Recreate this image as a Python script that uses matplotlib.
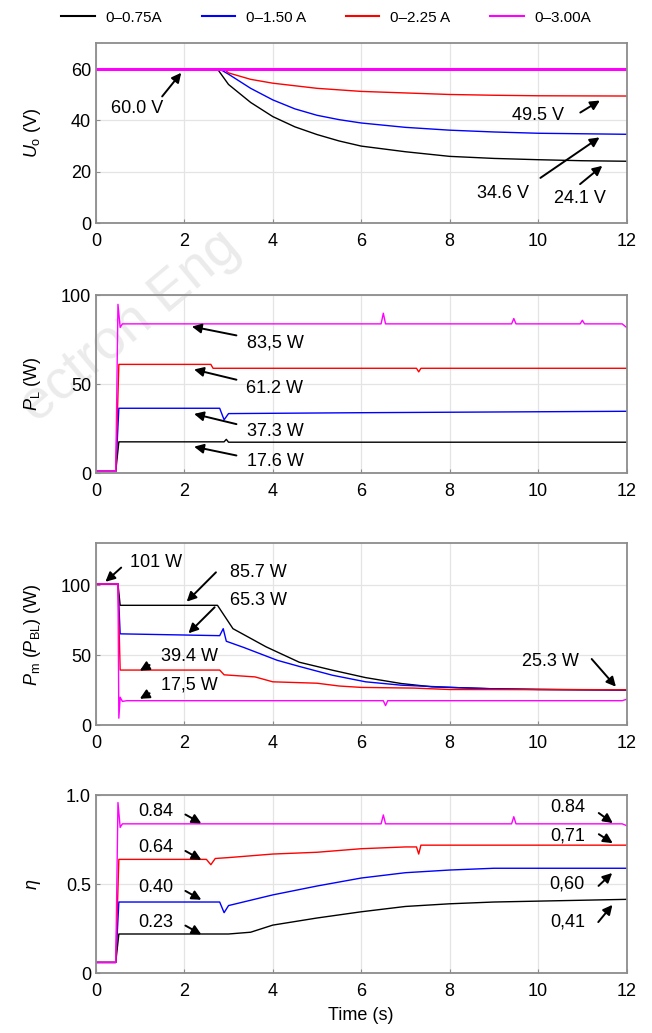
import matplotlib
matplotlib.use('Agg')
import matplotlib.pyplot as plt
from matplotlib.lines import Line2D

plt.rcParams['font.family'] = ['Liberation Sans', 'DejaVu Sans']
plt.rcParams['mathtext.fontset'] = 'custom'
plt.rcParams['mathtext.rm'] = 'Liberation Sans'
plt.rcParams['mathtext.it'] = 'Liberation Sans:italic'

# series names and colours
series = ['0–0.75A', '0–1.50 A', '0–2.25 A', '0–3.00A']
colors = ['black', 'blue', 'red', 'magenta']

# ---- Uo (V) ----
t_uo_k = [0, 2.75, 3.0, 3.5, 4.0, 4.5, 5.0, 5.5, 6.0, 7.0, 8.0, 9.0, 10.0, 11.0, 12.0]
uo_k = [60, 60, 54, 47, 41.5, 37.5, 34.5, 32, 30, 27.8, 26, 25.2, 24.7, 24.3, 24.1]
t_uo_b = [0, 2.8, 3.0, 3.5, 4.0, 4.5, 5.0, 5.5, 6.0, 7.0, 8.0, 9.0, 10.0, 11.0, 12.0]
uo_b = [60, 60, 58, 52.5, 48, 44.5, 42, 40.3, 39, 37.3, 36.2, 35.5, 35, 34.8, 34.6]
t_uo_r = [0, 2.9, 3.0, 3.5, 4.0, 4.5, 5.0, 6.0, 7.0, 8.0, 9.0, 10.0, 12.0]
uo_r = [60, 60, 58.5, 56, 54.5, 53.5, 52.5, 51.3, 50.7, 50.1, 49.8, 49.6, 49.5]
t_uo_m = [0, 12]
uo_m = [60, 60]

# ---- PL (W) ----
t_pl_k = [0, 0.45, 0.52, 2.9, 2.95, 3.0, 12]
pl_k = [1, 1, 17.6, 17.6, 19, 17.4, 17.4]
t_pl_b = [0, 0.45, 0.52, 2.8, 2.9, 3.0, 6.0, 12]
pl_b = [1, 1, 36.5, 36.5, 30, 33.5, 34, 34.8]
t_pl_r = [0, 0.45, 0.52, 2.6, 2.65, 7.25, 7.3, 7.35, 12]
pl_r = [1, 1, 61.2, 61.2, 59, 59, 57, 59, 59]
t_pl_m = [0, 0.45, 0.5, 0.55, 0.6, 6.45, 6.5, 6.55, 9.4, 9.45, 9.5, 10.95, 11.0, 11.05, 11.9, 12]
pl_m = [1, 1, 95, 82, 84, 84, 90, 84, 84, 87, 84, 84, 86, 84, 84, 82]

# ---- Pm (PBL) (W) ----
t_pm_k = [0, 0.5, 0.55, 2.75, 3.1, 3.85, 4.6, 5.35, 6.1, 6.9, 7.6, 8.2, 9.0, 10.0, 11.0, 12.0]
pm_k = [101, 101, 85.7, 85.7, 69, 56, 45, 39.3, 34, 29.8, 27.4, 26.8, 26, 25.6, 25.4, 25.3]
t_pm_b = [0, 0.5, 0.55, 2.8, 2.88, 2.95, 3.35, 4.1, 4.6, 5.35, 6.1, 6.9, 8.2, 9.0, 10.0, 12.0]
pm_b = [101, 101, 65.3, 64, 69, 60, 55.5, 46.4, 42, 35.7, 31, 28.6, 26.8, 26, 25.5, 25]
t_pm_r = [0, 0.5, 0.55, 2.8, 2.9, 3.6, 4.0, 5.0, 5.5, 6.0, 7.2, 8.0, 12.0]
pm_r = [101, 101, 39.4, 39.4, 36, 34.5, 31, 30, 28, 27, 26.5, 25.5, 25.3]
t_pm_m = [0, 0.5, 0.52, 0.55, 0.6, 0.7, 6.5, 6.55, 6.6, 11.9, 12.0]
pm_m = [101, 101, 5, 20, 17, 17.5, 17.5, 14, 17.5, 17.5, 18.5]

# ---- efficiency ----
t_eta_k = [0, 0.45, 0.52, 3.0, 3.5, 4.0, 5.0, 6.0, 7.0, 8.0, 9.0, 10.0, 12.0]
eta_k = [0.06, 0.06, 0.22, 0.22, 0.23, 0.27, 0.31, 0.345, 0.375, 0.39, 0.40, 0.405, 0.415]
t_eta_b = [0, 0.45, 0.52, 2.8, 2.9, 3.0, 4.0, 5.0, 6.0, 7.0, 8.0, 9.0, 12.0]
eta_b = [0.06, 0.06, 0.40, 0.40, 0.34, 0.38, 0.44, 0.49, 0.535, 0.565, 0.58, 0.59, 0.59]
t_eta_r = [0, 0.45, 0.52, 2.5, 2.6, 2.7, 3.0, 4.0, 5.0, 6.0, 7.0, 7.25, 7.3, 7.35, 8.0, 12.0]
eta_r = [0.06, 0.06, 0.64, 0.64, 0.61, 0.645, 0.65, 0.67, 0.68, 0.70, 0.71, 0.71, 0.67, 0.72, 0.72, 0.72]
t_eta_m = [0, 0.45, 0.5, 0.55, 0.6, 6.45, 6.5, 6.55, 9.4, 9.45, 9.5, 11.9, 12.0]
eta_m = [0.06, 0.06, 0.96, 0.82, 0.84, 0.84, 0.89, 0.84, 0.84, 0.88, 0.84, 0.84, 0.83]

# annotations: text, text centre, arrow tail, arrow head
notes_uo = [('60.0 V', (0.93, 44.5), (1.46, 48.5), (1.97, 59.4)),
            ('49.5 V', (10.0, 41.8), (10.9, 42.5), (11.45, 48.3)),
            ('34.6 V', (9.2, 11.6), (10.0, 17.0), (11.44, 34.0)),
            ('24.1 V', (10.95, 9.6), (10.9, 14.5), (11.5, 23.0))]
notes_pl = [('83,5 W', (4.05, 73.5), (3.24, 77.2), (2.11, 82.8)),
            ('61.2 W', (4.05, 47.6), (3.24, 52.2), (2.16, 58.7)),
            ('37.3 W', (4.05, 23.5), (3.24, 27.2), (2.16, 33.7)),
            ('17.6 W', (4.05, 6.5), (3.24, 9.6), (2.16, 15.2))]
notes_pm = [('101 W', (1.36, 116.6), (0.62, 114), (0.17, 101.2)),
            ('85.7 W', (3.67, 109.5), (2.76, 110.7), (2.01, 86.9)),
            ('65.3 W', (3.67, 89.3), (2.73, 85.7), (2.05, 64.3)),
            ('39.4 W', (2.11, 48.8), (1.27, 44.0), (0.94, 38.0)),
            ('17,5 W', (2.11, 28.6), (1.27, 23.8), (0.94, 17.9)),
            ('25.3 W', (10.28, 45.2), (11.17, 48.8), (11.8, 26.0))]
notes_eta = [('0.84', (1.36, 0.91), (1.97, 0.90), (2.44, 0.835)),
             ('0.64', (1.36, 0.705), (1.97, 0.695), (2.44, 0.63)),
             ('0.40', (1.36, 0.48), (1.97, 0.47), (2.44, 0.405)),
             ('0.23', (1.36, 0.284), (1.97, 0.275), (2.44, 0.21)),
             ('0.84', (10.66, 0.93), (11.32, 0.91), (11.74, 0.835)),
             ('0,71', (10.66, 0.77), (11.32, 0.79), (11.74, 0.723)),
             ('0,60', (10.66, 0.50), (11.32, 0.48), (11.72, 0.574)),
             ('0,41', (10.66, 0.29), (11.32, 0.275), (11.72, 0.396))]

fig = plt.figure(figsize=(6.52, 10.33), dpi=100)

# faint watermark behind the axes
fig.text(0.055, 0.59, 'ectron Eng', rotation=40, rotation_mode='anchor',
         ha='left', va='baseline', fontsize=40, color='#ebebeb', zorder=-1)

boxes = [[0.147, 0.784, 0.814, 0.174],
         [0.147, 0.542, 0.814, 0.172],
         [0.147, 0.298, 0.814, 0.176],
         [0.147, 0.058, 0.814, 0.172]]

panels = [
    ([(t_uo_k, uo_k), (t_uo_b, uo_b), (t_uo_r, uo_r), (t_uo_m, uo_m)], (0, 70), [0, 20, 40, 60], None,
     r'$U_{\mathrm{o}}$ (V)', notes_uo),
    ([(t_pl_k, pl_k), (t_pl_b, pl_b), (t_pl_r, pl_r), (t_pl_m, pl_m)], (0, 100), [0, 50, 100], None,
     r'$P_{\mathrm{L}}$ (W)', notes_pl),
    ([(t_pm_k, pm_k), (t_pm_b, pm_b), (t_pm_r, pm_r), (t_pm_m, pm_m)], (0, 130), [0, 50, 100], None,
     r'$P_{\mathrm{m}}$ ($P_{\mathrm{BL}}$) (W)', notes_pm),
    ([(t_eta_k, eta_k), (t_eta_b, eta_b), (t_eta_r, eta_r), (t_eta_m, eta_m)], (0, 1), [0, 0.5, 1.0], ['0', '0.5', '1.0'],
     r'$\eta$', notes_eta),
]

for i, (lines, ylim, yt, ytl, ylab, notes) in enumerate(panels):
    ax = fig.add_axes(boxes[i])
    ax.set_facecolor('none')
    for j, (t, v) in enumerate(lines):
        lw = 2.2 if (i == 0 and j == 3) else 1.0
        ax.plot(t, v, color=colors[j], lw=lw)
    ax.set_xlim(0, 12)
    ax.set_ylim(*ylim)
    ax.set_xticks(range(0, 13, 2))
    ax.set_yticks(yt)
    if ytl:
        ax.set_yticklabels(ytl)
    ax.grid(True, color='#e4e4e4', lw=0.9)
    ax.set_axisbelow(True)
    for s in ax.spines.values():
        s.set_color('#8c8c8c')
        s.set_linewidth(1.3)
    ax.tick_params(direction='in', length=3, color='#8c8c8c', labelsize=13)
    ax.tick_params(axis='x', pad=7)
    ax.set_ylabel(ylab, fontsize=13)
    ax.yaxis.set_label_coords(-0.1, 0.5)
    for txt, pos, tail, head in notes:
        ax.text(pos[0], pos[1], txt, fontsize=13, ha='center', va='center')
        ax.annotate('', xy=head, xytext=tail,
                    arrowprops=dict(arrowstyle='-|>', color='black', lw=1.4, mutation_scale=14))
    if i == 3:
        ax.set_xlabel('Time (s)', fontsize=13, labelpad=5)

handles = [Line2D([], [], color=c, lw=1.5) for c in colors]
fig.legend(handles, series, loc='center', bbox_to_anchor=(0.5, 0.983), ncol=4, frameon=False,
           fontsize=11, handlelength=2.2, handletextpad=0.7, columnspacing=2.6)

fig.savefig('out.png', dpi=100)
